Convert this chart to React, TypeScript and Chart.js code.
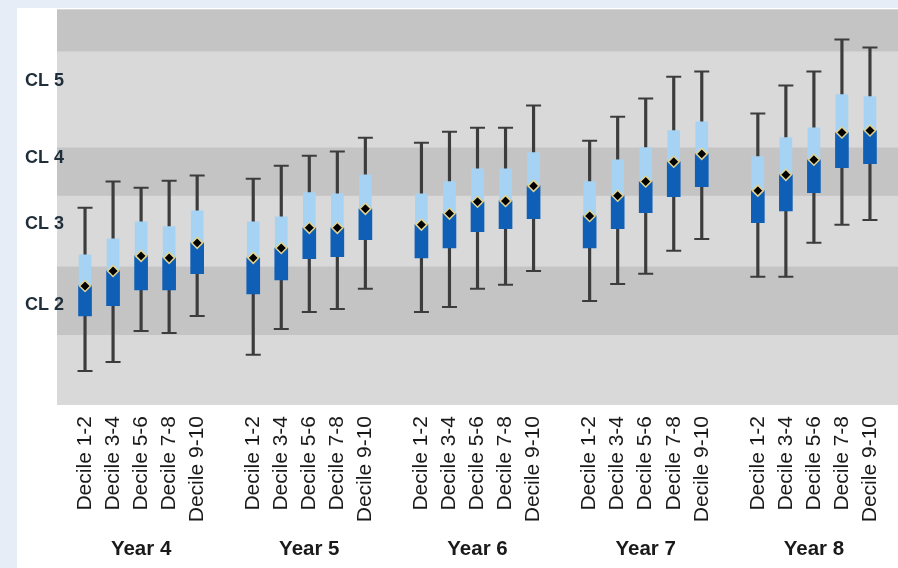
import { useEffect, useRef } from 'react';
import { Chart, registerables } from 'chart.js';

Chart.register(...registerables);

const years = ['Year 4', 'Year 5', 'Year 6', 'Year 7', 'Year 8'];
const deciles = ['Decile 1-2', 'Decile 3-4', 'Decile 5-6', 'Decile 7-8', 'Decile 9-10'];

// values ordered Year 4 (deciles 1-2 .. 9-10), Year 5, ... Year 8
const whiskerHigh = [
  49.9, 56.5, 54.9, 56.7, 58.0,
  57.2, 60.5, 63.0, 64.1, 67.6,
  66.3, 69.1, 70.1, 70.1, 75.7,
  66.8, 72.9, 77.5, 83.0, 84.3,
  73.7, 80.8, 84.3, 92.4, 90.4,
];
const upperQuartile = [
  38.0, 42.0, 46.3, 45.1, 49.1,
  46.3, 47.6, 53.7, 53.4, 58.2,
  53.4, 56.5, 59.7, 59.7, 63.8,
  56.5, 62.0, 65.1, 69.4, 71.6,
  62.8, 67.6, 70.1, 78.5, 78.0,
];
const median = [
  30.1, 33.9, 37.7, 37.2, 41.0,
  37.2, 39.7, 44.8, 44.8, 49.6,
  45.6, 48.4, 51.4, 51.6, 55.4,
  47.8, 52.9, 56.5, 61.5, 63.5,
  54.2, 58.2, 62.0, 68.9, 69.4,
];
const lowerQuartile = [
  22.5, 25.1, 29.1, 29.1, 33.2,
  28.1, 31.6, 37.0, 37.5, 41.8,
  37.2, 39.7, 43.8, 44.6, 47.1,
  39.7, 44.6, 48.6, 52.7, 55.2,
  46.1, 49.1, 53.7, 60.0, 61.0,
];
const whiskerLow = [
  8.6, 10.9, 18.7, 18.2, 22.5,
  12.7, 19.2, 23.5, 24.3, 29.4,
  23.5, 24.8, 29.4, 30.4, 33.9,
  26.3, 30.6, 33.2, 39.0, 42.0,
  32.4, 32.4, 41.0, 45.6, 46.8,
];

const clTickValues = [25.4, 45.7, 62.4, 81.8];
const clTickLabels = ['CL 2', 'CL 3', 'CL 4', 'CL 5'];
const darkBands = [
  [17.7, 35.0],
  [52.9, 65.1],
  [89.4, 100],
];

const FONT = "'Liberation Sans', Arial, sans-serif";

// Build the slot layout: a blank slot before each year group
function buildSlots() {
  const decileLabels: string[] = [''];
  const yearLabels: string[] = [''];
  const slotIndex: number[] = [];
  years.forEach((y) => {
    deciles.forEach((d, k) => {
      slotIndex.push(decileLabels.length);
      decileLabels.push(d);
      yearLabels.push(k === 2 ? y : '');
    });
    decileLabels.push('');
    yearLabels.push('');
  });
  return { decileLabels, yearLabels, slotIndex };
}

function place<T>(values: T[], slotIndex: number[], n: number): (T | null)[] {
  const out: (T | null)[] = new Array(n).fill(null);
  values.forEach((v, i) => {
    out[slotIndex[i]] = v;
  });
  return out;
}

function noPadding(s: any) {
  s.paddingLeft = 0;
  s.paddingRight = 0;
  s.paddingTop = 0;
  s.paddingBottom = 0;
}

const bandsPlugin = {
  id: 'bands',
  beforeDraw(chart: any) {
    const { ctx, chartArea, scales } = chart;
    const y = scales.y;
    ctx.save();
    ctx.fillStyle = '#d9d9d9';
    ctx.fillRect(chartArea.left, chartArea.top, chartArea.right - chartArea.left, chartArea.bottom - chartArea.top);
    ctx.fillStyle = '#c4c4c4';
    darkBands.forEach(([a, b]) => {
      const top = Math.max(y.getPixelForValue(b), chartArea.top);
      const bottom = y.getPixelForValue(a);
      ctx.fillRect(chartArea.left, top, chartArea.right - chartArea.left, bottom - top);
    });
    ctx.restore();
  },
};

export default function App() {
  const ref = useRef<HTMLCanvasElement | null>(null);

  useEffect(() => {
    if (!ref.current) return;
    const { decileLabels, yearLabels, slotIndex } = buildSlots();
    const n = decileLabels.length;
    const whiskers = place(whiskerLow.map((v, i) => [v, whiskerHigh[i]]), slotIndex, n);
    const lowerBox = place(lowerQuartile.map((v, i) => [v, median[i]]), slotIndex, n);
    const upperBox = place(median.map((v, i) => [v, upperQuartile[i]]), slotIndex, n);
    const capHigh = place(whiskerHigh, slotIndex, n);
    const capLow = place(whiskerLow, slotIndex, n);
    const med = place(median, slotIndex, n);

    const chart = new Chart(ref.current, {
      type: 'bar',
      data: {
        labels: decileLabels,
        datasets: [
          {
            type: 'line',
            data: med as any,
            showLine: false,
            pointStyle: 'rectRot',
            pointRadius: 5.5,
            pointBackgroundColor: '#000000',
            pointBorderColor: '#e2d28e',
            pointBorderWidth: 1.5,
            order: 0,
          },
          {
            type: 'bar',
            data: upperBox as any,
            backgroundColor: '#a6d3f3',
            barThickness: 12,
            grouped: false,
            borderWidth: 0,
            order: 2,
          },
          {
            type: 'bar',
            data: lowerBox as any,
            backgroundColor: '#0f5fb6',
            barThickness: 13,
            grouped: false,
            borderWidth: 0,
            order: 1,
          },
          {
            type: 'line',
            data: capHigh as any,
            showLine: false,
            pointStyle: 'line',
            pointRadius: 7.5,
            pointBorderColor: '#3c3c3c',
            pointBorderWidth: 2,
            order: 3,
          },
          {
            type: 'line',
            data: capLow as any,
            showLine: false,
            pointStyle: 'line',
            pointRadius: 7.5,
            pointBorderColor: '#3c3c3c',
            pointBorderWidth: 2,
            order: 3,
          },
          {
            type: 'bar',
            data: whiskers as any,
            backgroundColor: '#3c3c3c',
            barThickness: 2.5,
            grouped: false,
            borderWidth: 0,
            order: 4,
          },
        ],
      },
      options: {
        animation: false,
        responsive: false,
        events: [],
        layout: { autoPadding: false, padding: { left: 8, top: 1.5, right: 0, bottom: 0 } },
        plugins: { legend: { display: false }, tooltip: { enabled: false } },
        scales: {
          x: {
            type: 'category',
            offset: false,
            grid: { display: false, drawTicks: false },
            border: { display: false },
            ticks: {
              autoSkip: false,
              maxRotation: 90,
              minRotation: 90,
              padding: 11,
              color: '#1a1a1a',
              font: { family: FONT, size: 21 },
            },
            afterFit: (s: any) => {
              s.height = 132;
              noPadding(s);
            },
          },
          x2: {
            type: 'category',
            labels: yearLabels,
            position: 'bottom',
            offset: false,
            grid: { display: false, drawTicks: false },
            border: { display: false },
            ticks: {
              autoSkip: false,
              maxRotation: 0,
              minRotation: 0,
              padding: 0,
              color: '#1a1a1a',
              font: { family: FONT, size: 20.5, weight: 'bold' },
            },
            afterFit: (s: any) => {
              s.height = 31;
              noPadding(s);
            },
          },
          y: {
            type: 'linear',
            min: 0,
            max: 100,
            grid: { display: false, drawTicks: false },
            border: { display: false },
            ticks: {
              autoSkip: false,
              mirror: true,
              padding: -32,
              color: '#1f2f3a',
              font: { family: FONT, size: 18, weight: 'bold' },
              callback: (_v: any, i: number) => clTickLabels[i],
            },
            afterBuildTicks: (s: any) => {
              s.ticks = clTickValues.map((v) => ({ value: v }));
            },
            afterFit: (s: any) => {
              s.width = 32;
              noPadding(s);
            },
          },
        },
      } as any,
      plugins: [bandsPlugin],
    });
    return () => chart.destroy();
  }, []);

  return (
    <div
      style={{
        position: 'fixed',
        left: 0,
        top: 0,
        width: 898,
        height: 568,
        background: '#e7edf6',
        overflow: 'hidden',
      }}
    >
      <div
        style={{
          position: 'absolute',
          left: 17,
          top: 8,
          width: 881,
          height: 560,
          background: '#ffffff',
        }}
      >
        <canvas ref={ref} width={881} height={560} style={{ display: 'block' }} />
      </div>
    </div>
  );
}
